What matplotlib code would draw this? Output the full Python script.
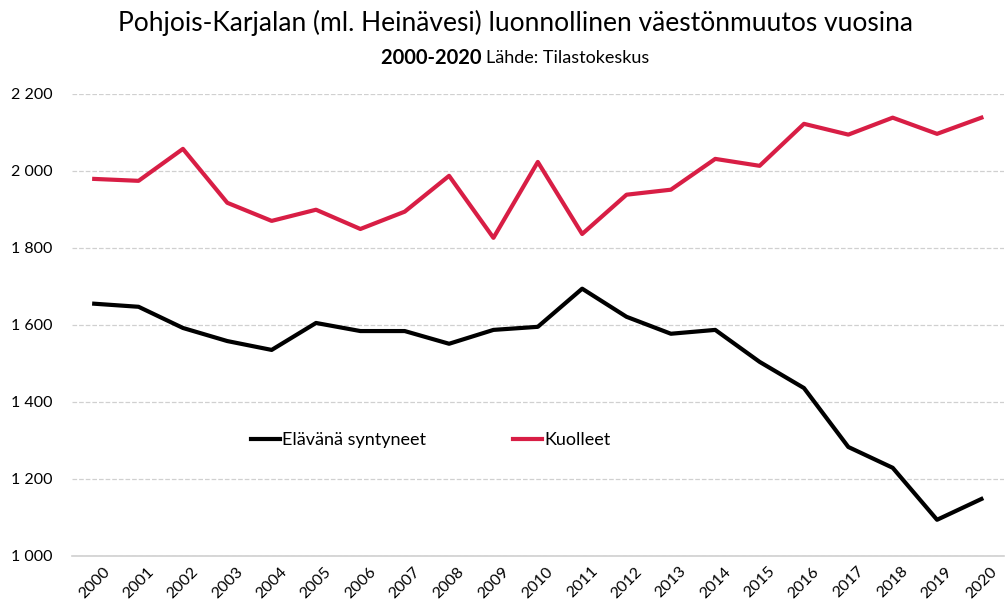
import numpy as np
import matplotlib.pyplot as plt

# data
years = [str(y) for y in range(2000, 2021)]
syntyneet = [1655, 1647, 1592, 1558, 1535, 1605, 1584, 1584, 1551, 1587, 1595,
             1694, 1621, 1577, 1587, 1504, 1436, 1283, 1229, 1094, 1148]
kuolleet = [1979, 1974, 2057, 1917, 1870, 1899, 1849, 1894, 1987, 1826, 2023,
            1836, 1938, 1951, 2031, 2013, 2122, 2094, 2138, 2096, 2138]
yticks = [1000, 1200, 1400, 1600, 1800, 2000, 2200]

plt.rcParams['font.family'] = ['Lato', 'DejaVu Sans']

fig = plt.figure(figsize=(10.06, 6.13), dpi=100)
ax = fig.add_axes([0.0716, 0.093, 0.926, 0.754])

x = np.arange(len(years))
ax.plot(x, syntyneet, color='black', lw=3, label='Elävänä syntyneet')
ax.plot(x, kuolleet, color='#D81E45', lw=3, label='Kuolleet')

ax.set_xlim(-0.5, len(years) - 0.5)
ax.set_ylim(1000, 2200)
ax.set_yticks(yticks)
ax.set_yticklabels([f"{v:,}".replace(",", " ") for v in yticks], fontsize=11.5)
ax.set_xticks(x)
ax.set_xticklabels(years, rotation=45, fontsize=11.5)
ax.tick_params(length=0)
ax.tick_params(axis='y', pad=14)
ax.tick_params(axis='x', pad=6)

ax.grid(axis='y', color='#D0D0D0', linestyle='--', lw=0.9)
for s in ['top', 'right', 'left']:
    ax.spines[s].set_visible(False)
ax.spines['bottom'].set_color('#D0D0D0')
ax.spines['bottom'].set_linewidth(1.2)
ax.set_axisbelow(True)

ax.legend(loc='center', bbox_to_anchor=(0.385, 0.25), ncol=2, frameon=False,
          fontsize=13, handlelength=1.6, handletextpad=0.15, columnspacing=4.8)

fig.text(0.512, 0.962, 'Pohjois-Karjalan (ml. Heinävesi) luonnollinen väestönmuutos vuosina',
         ha='center', va='center', fontsize=19)
t1 = fig.text(0.5, 0.905, '2000-2020 ', ha='right', va='center', fontsize=14.5, fontweight='bold')
t2 = fig.text(0.5, 0.905, 'Lähde: Tilastokeskus', ha='left', va='center', fontsize=13)

# center the two-part subtitle
fig.canvas.draw()
w1 = t1.get_window_extent().width
w2 = t2.get_window_extent().width
shift = (w1 - w2) / 2 / fig.bbox.width
t1.set_x(0.512 + shift)
t2.set_x(0.512 + shift)

fig.savefig('out.png', dpi=100)
